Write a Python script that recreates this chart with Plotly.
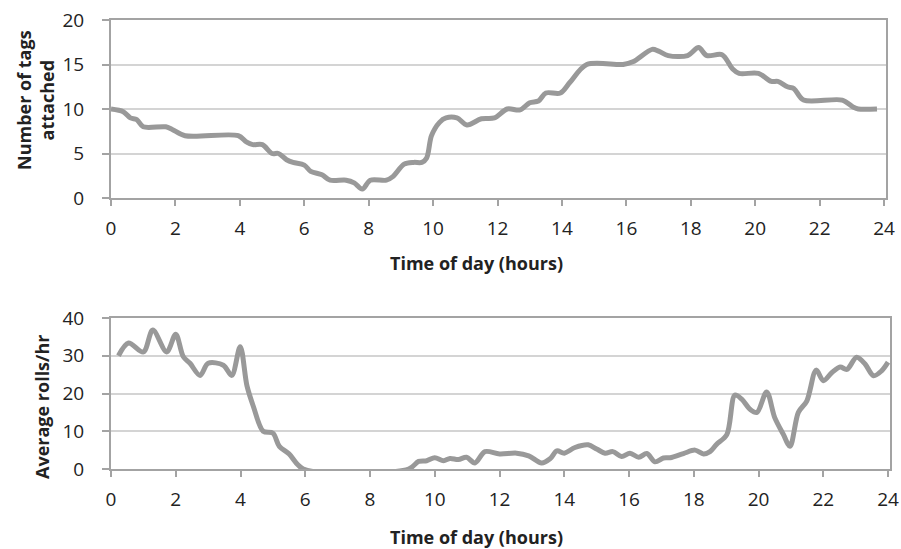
import plotly.graph_objects as go

# ---- Data ----
tags_hours = [0, 0.38, 0.6, 0.8, 1.0, 1.7, 1.9, 2.3, 3.95, 4.2, 4.4, 4.7, 5.0, 5.2, 5.45,
              5.65, 6.0, 6.2, 6.55, 6.8, 7.3, 7.55, 7.8, 8.05, 8.55, 8.75, 9.1, 9.4, 9.65,
              9.8, 9.95, 10.2, 10.4, 10.74, 11.05, 11.5, 11.9, 12.3, 12.7, 13.0, 13.27,
              13.5, 13.95, 14.25, 14.77, 15.9, 16.2, 16.8, 17.0, 17.3, 17.9, 18.24, 18.5,
              18.97, 19.3, 19.5, 20.1, 20.5, 20.7, 21.0, 21.2, 21.5, 22.7, 23.05, 23.2, 23.78]
tags_values = [10, 9.7, 9, 8.8, 8, 8, 7.7, 7, 7, 6.3, 6, 6, 5, 5, 4.3,
               4, 3.7, 3, 2.6, 2, 2, 1.7, 1, 2, 2, 2.4, 3.8, 4, 4,
               4.5, 7, 8.5, 9, 9, 8.2, 8.9, 9, 10, 9.9, 10.7, 10.9,
               11.8, 11.8, 13, 15, 15, 15.3, 16.7, 16.5, 16, 16, 16.9, 16,
               16.1, 14.5, 14, 14, 13.1, 13.1, 12.5, 12.3, 11, 11, 10.2, 10, 10]

rolls_hours = [0.23, 0.54, 1.0, 1.29, 1.72, 2.0, 2.23, 2.44, 2.75, 3.0, 3.47, 3.73, 3.99,
               4.2, 4.4, 4.7, 5.0, 5.2, 5.5, 5.94, 9.19, 9.5, 9.75, 10.0, 10.27, 10.47,
               10.73, 10.98, 11.24, 11.55, 12.0, 12.53, 12.9, 13.3, 13.56, 13.77, 14.0,
               14.33, 14.74, 15.0, 15.26, 15.5, 15.77, 16.03, 16.3, 16.55, 16.8, 17.06,
               17.27, 17.68, 18.04, 18.3, 18.5, 18.7, 19.02, 19.27, 19.48, 19.74, 19.95,
               20.25, 20.5, 20.77, 20.97, 21.23, 21.49, 21.78, 22.0, 22.26, 22.52, 22.73,
               23.03, 23.29, 23.55, 23.8, 24.0]
rolls_values = [30, 33.4, 31, 36.8, 31, 35.7, 29.8, 28, 24.8, 28, 27.5, 24.8, 32.4,
                22, 16.5, 10, 9.5, 6, 4, 0, 0, 2, 2.2, 3.0, 2.2, 2.8,
                2.5, 3.1, 1.6, 4.6, 4, 4.2, 3.5, 1.6, 2.7, 4.8, 4.2,
                5.7, 6.4, 5.3, 4.2, 4.6, 3.3, 4.2, 3.1, 4.1, 1.9, 2.9,
                3, 4.1, 5.0, 4, 4.6, 6.5, 9.1, 19.6, 18.5, 15.8, 15,
                20.4, 13.6, 9.1, 6, 15, 18, 26.2, 23.4, 25.5, 27, 26.4,
                29.6, 27.8, 24.7, 26, 28.3]

x_ticks = [0, 2, 4, 6, 8, 10, 12, 14, 16, 18, 20, 22, 24]
tags_ticks = [0, 5, 10, 15, 20]
rolls_ticks = [0, 10, 20, 30, 40]

W, H = 901, 549
LINE = "#999999"
AXIS = "#a3a3a3"
GRID = "#d4d4d4"
TXT = "#222222"
FONT = "Open Sans"

def px_x(p):
    return p / W

def px_y(p):
    return 1 - p / H

fig = go.Figure()
fig.add_trace(go.Scatter(x=tags_hours, y=tags_values, mode="lines",
                         line=dict(color=LINE, width=5, shape="spline", smoothing=0.9),
                         xaxis="x", yaxis="y", showlegend=False, hoverinfo="skip"))
fig.add_trace(go.Scatter(x=rolls_hours, y=rolls_values, mode="lines",
                         line=dict(color=LINE, width=5, shape="spline", smoothing=0.9),
                         xaxis="x2", yaxis="y2", showlegend=False, hoverinfo="skip"))

common_x = dict(showline=True, linecolor=AXIS, linewidth=2, mirror=True,
                ticks="outside", ticklen=6, tickwidth=2, tickcolor=AXIS,
                tickvals=x_ticks, ticktext=[str(v) for v in x_ticks],
                showgrid=False, zeroline=False, automargin=False,
                tickfont=dict(family=FONT, size=19, color=TXT), ticklabelstandoff=6)
common_y = dict(showline=True, linecolor=AXIS, linewidth=2, mirror=True,
                ticks="outside", ticklen=7, tickwidth=2, tickcolor=AXIS,
                showgrid=True, gridcolor=GRID, gridwidth=2, zeroline=False, automargin=False,
                tickfont=dict(family=FONT, size=19, color=TXT), ticklabelstandoff=14)

fig.update_layout(
    width=W, height=H,
    margin=dict(l=0, r=0, t=0, b=0),
    paper_bgcolor="white", plot_bgcolor="white",
    xaxis=dict(common_x, domain=[px_x(111), px_x(886)], range=[0, 24.06], anchor="y"),
    yaxis=dict(common_y, domain=[px_y(198), px_y(20)], range=[0, 20],
               tickvals=tags_ticks, anchor="x"),
    xaxis2=dict(common_x, domain=[px_x(111), px_x(890)], range=[0, 24.06], anchor="y2"),
    yaxis2=dict(common_y, domain=[px_y(469), px_y(318)], range=[0, 40],
                tickvals=rolls_ticks, anchor="x2"),
)

title_font = dict(family=FONT, size=18, color=TXT)
annots = [
    dict(text="<b>Time of day (hours)</b>", x=px_x(476), y=px_y(263)),
    dict(text="<b>Time of day (hours)</b>", x=px_x(476), y=px_y(537)),
    dict(text="<b>Number of tags<br>attached</b>", x=px_x(35), y=px_y(100), textangle=-90),
    dict(text="<b>Average rolls/hr</b>", x=px_x(42), y=px_y(407), textangle=-90),
]
for a in annots:
    fig.add_annotation(xref="paper", yref="paper", showarrow=False,
                       xanchor="center", yanchor="middle", font=title_font, **a)

fig.write_html("out.html")
